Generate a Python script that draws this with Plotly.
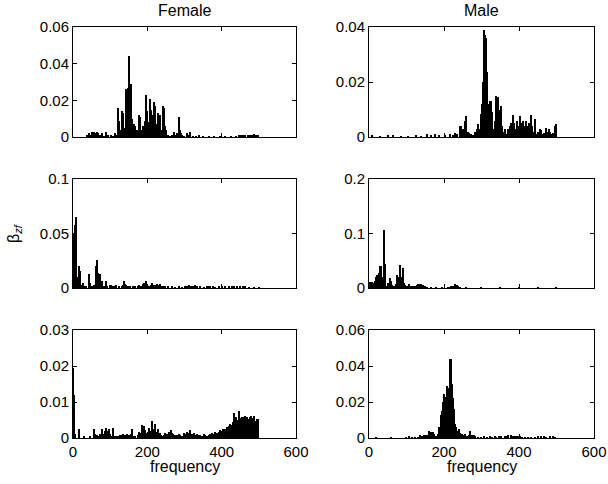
import plotly.graph_objects as go

# ---------------- data (frequency, beta_zf) ----------------
# Female, row 1
f1_freq = [38, 42, 47, 51, 56, 60, 64, 67, 72, 78, 83, 89, 95, 103, 108, 112, 116,
           120, 123, 125, 128, 132, 136, 140, 143, 146, 148, 152, 156, 158, 161, 164,
           168, 172, 176, 179, 181, 183, 186, 189, 193, 196, 199, 201, 204, 208, 210,
           213, 216, 218, 220, 222, 225, 227, 230, 232, 234, 238, 242, 244, 246, 248,
           250, 254, 257, 262, 266, 272, 277, 281, 284, 287, 290, 293, 300, 307, 312,
           316, 322, 330, 338, 350, 365, 380, 395, 410, 425, 440, 446, 452, 458, 464,
           470, 476, 482, 486, 490, 494, 498]
f1_val = [0.001, 0.002, 0.001, 0.0025, 0.0025, 0.002, 0.003, 0.002, 0.001, 0.002, 0.0005,
          0.003, 0.0008, 0.001, 0.0005, 0.002, 0.001,
          0.016, 0.009, 0.006, 0.004, 0.014, 0.013, 0.005, 0.026, 0.019, 0.027, 0.044,
          0.029, 0.010, 0.006, 0.007, 0.006, 0.004, 0.002, 0.012, 0.011, 0.004, 0.002,
          0.006, 0.009, 0.023, 0.014, 0.007, 0.008, 0.021, 0.015, 0.012, 0.005, 0.019,
          0.017, 0.011, 0.006, 0.007, 0.013, 0.010, 0.012, 0.004, 0.017, 0.016, 0.011,
          0.006, 0.004, 0.001, 0.001, 0.0005, 0.001, 0.003, 0.001, 0.002, 0.011, 0.004,
          0.002, 0.001, 0.0005, 0.002, 0.001, 0.003, 0.0005, 0.0003, 0.001, 0.0003,
          0.0003, 0.0003, 0.0003, 0.0003, 0.0003, 0.0005, 0.0008, 0.0006, 0.001, 0.0008,
          0.001, 0.0012, 0.001, 0.0015, 0.001, 0.0006, 0.0008]

# Male, row 1
m1_freq = [8, 30, 51, 64, 86, 105, 126, 140, 155, 166, 175, 188, 202, 215, 224, 230, 234,
           242, 246, 250, 253, 257, 260, 264, 268, 273, 278, 284, 287, 291, 294, 298,
           300, 302, 303, 305, 306, 307, 308, 309, 311, 312, 314, 316, 318, 319, 321,
           323, 325, 327, 329, 332, 335, 338, 340, 342, 344, 347, 350, 353, 356, 360,
           364, 367, 371, 376, 380, 385, 388, 392, 396, 399, 403, 406, 410, 413, 417,
           420, 424, 428, 431, 435, 438, 442, 445, 449, 452, 456, 460, 464, 468, 472,
           476, 479, 483, 486, 491, 495, 500]
m1_val = [0.0005, 0.0003, 0.0006, 0.0004, 0.0003, 0.0003, 0.0005, 0.0003, 0.0012, 0.0008,
          0.001, 0.0008, 0.0008, 0.001, 0.0008, 0.0015, 0.001,
          0.004, 0.004, 0.003, 0.002, 0.006, 0.0077, 0.002, 0.0015, 0.001, 0.0005, 0.002,
          0.003, 0.0046, 0.003, 0.005,
          0.0083, 0.012, 0.016, 0.020, 0.025, 0.030, 0.039, 0.037, 0.036, 0.028, 0.0236,
          0.018, 0.012, 0.009, 0.011, 0.013, 0.0132, 0.009, 0.007, 0.003, 0.006, 0.0148,
          0.008, 0.006, 0.0144, 0.006, 0.010, 0.0114, 0.004, 0.002, 0.003, 0.001, 0.003,
          0.004, 0.005, 0.0081, 0.005, 0.003, 0.006, 0.004, 0.0075, 0.005, 0.006, 0.003,
          0.004, 0.006, 0.004, 0.005, 0.008, 0.004, 0.002, 0.0065, 0.001, 0.0005, 0.002,
          0.0028, 0.0025, 0.001, 0.0015, 0.0034, 0.002, 0.0028, 0.002, 0.001, 0.0015,
          0.004, 0.0046]

# Female, row 2
f2_freq = [1, 2, 3, 4, 5, 6, 7, 8, 9, 11, 13, 17, 18, 20, 22, 27, 31, 36, 43, 45, 47, 51,
           57, 61, 63, 66, 68, 69, 72, 74, 76, 78, 83, 88, 92, 99, 102, 106, 111, 116,
           123, 132, 136, 138, 141, 143, 148, 154, 161, 168, 174, 179, 184, 188, 191,
           193, 196, 198, 200, 205, 210, 213, 217, 220, 223, 227, 230, 235, 239, 244,
           248, 257, 266, 275, 284, 293, 302, 307, 311, 318, 324, 329, 334, 343, 352,
           361, 365, 370, 376, 383, 392, 401, 410, 419, 428, 434, 441, 450, 457, 464,
           473, 486, 500]
f2_val = [0.050, 0.048, 0.050, 0.049, 0.047, 0.058, 0.060, 0.065, 0.030, 0.010, 0.004,
          0.020, 0.016, 0.015, 0.003, 0.005, 0.002, 0.001, 0.013, 0.005, 0.004, 0.001,
          0.003, 0.015, 0.020, 0.026, 0.014, 0.012, 0.005, 0.013, 0.006, 0.006, 0.002,
          0.006, 0.002, 0.003, 0.003, 0.002, 0.002, 0.003, 0.001, 0.001, 0.003, 0.006,
          0.004, 0.003, 0.002, 0.001, 0.001, 0.001, 0.002, 0.003, 0.002, 0.004, 0.005,
          0.005, 0.006, 0.004, 0.004, 0.002, 0.003, 0.005, 0.003, 0.002, 0.003, 0.004,
          0.003, 0.004, 0.002, 0.001, 0.001, 0.001, 0.001, 0.0005, 0.001, 0.0005, 0.002,
          0.002, 0.003, 0.001, 0.002, 0.003, 0.001, 0.001, 0.0005, 0.002, 0.002, 0.002,
          0.001, 0.0005, 0.001, 0.001, 0.001, 0.001, 0.001, 0.002, 0.001, 0.001, 0.002,
          0.001, 0.0005, 0.0003, 0.0003]

# Male, row 2
m2_freq = [2, 4, 8, 12, 15, 19, 22, 26, 29, 31, 33, 36, 39, 41, 44, 48, 52, 55, 57, 59,
           62, 66, 69, 73, 76, 78, 80, 83, 86, 90, 93, 97, 100, 104, 108, 113, 117, 122,
           127, 131, 135, 140, 143, 147, 150, 156, 165, 180, 195, 210, 217, 220, 224,
           227, 230, 232, 234, 237, 242, 260, 300, 350, 400, 450, 500]
m2_val = [0.010, 0.011, 0.011, 0.010, 0.012, 0.020, 0.023, 0.027, 0.040, 0.030, 0.040,
          0.020, 0.106, 0.083, 0.044, 0.004, 0.010, 0.018, 0.015, 0.013, 0.006, 0.004,
          0.002, 0.008, 0.024, 0.020, 0.018, 0.042, 0.020, 0.037, 0.010, 0.006, 0.003,
          0.004, 0.007, 0.004, 0.002, 0.003, 0.006, 0.007, 0.008, 0.007, 0.005, 0.003,
          0.002, 0.001, 0.0005, 0.0005, 0.0005, 0.0005, 0.001, 0.003, 0.002, 0.004, 0.007,
          0.006, 0.005, 0.003, 0.001, 0.0003, 0.0003, 0.0003, 0.0003, 0.0003, 0.0003]

# Female, row 3
f3_freq = [1, 2, 3, 4, 5, 17, 30, 45, 56, 60, 65, 69, 74, 78, 82, 85, 89, 92, 96, 100,
           103, 109, 114, 118, 123, 127, 132, 136, 141, 145, 150, 155, 159, 163, 168,
           174, 179, 183, 187, 190, 194, 197, 201, 204, 209, 213, 216, 220, 223, 227,
           230, 234, 238, 241, 245, 248, 252, 256, 259, 263, 266, 270, 274, 277, 281,
           284, 289, 293, 298, 302, 307, 311, 316, 320, 325, 329, 334, 338, 343, 347,
           352, 356, 361, 365, 370, 374, 379, 383, 387, 392, 396, 401, 405, 410, 414,
           419, 422, 426, 430, 432, 436, 439, 442, 446, 448, 451, 455, 458, 462, 466,
           469, 473, 476, 480, 483, 487, 491, 494, 498]
f3_val = [0.0195, 0.012, 0.0085, 0.003, 0.001, 0.0024, 0.0003, 0.0003, 0.0024, 0.001,
          0.0007, 0.0005, 0.0012, 0.0026, 0.0012, 0.002, 0.0027, 0.002, 0.0025, 0.0012,
          0.0005, 0.0028, 0.0006, 0.0004, 0.0006, 0.0009, 0.0007, 0.0012, 0.0008, 0.0011,
          0.0008, 0.001, 0.0025, 0.0006, 0.0004, 0.0008, 0.0018, 0.0015, 0.0035, 0.0032,
          0.0022, 0.0013, 0.0018, 0.0028, 0.002, 0.0046, 0.0025, 0.004, 0.0012, 0.0018,
          0.0026, 0.0015, 0.0008, 0.0006, 0.0008, 0.0014, 0.001, 0.0008, 0.0018, 0.0021,
          0.0015, 0.0012, 0.0007, 0.0005, 0.0009, 0.0012, 0.0007, 0.0006, 0.0013, 0.0011,
          0.0016, 0.0013, 0.0022, 0.0012, 0.0015, 0.0009, 0.0012, 0.0007, 0.0009, 0.0005,
          0.0012, 0.0009, 0.0005, 0.0008, 0.0012, 0.0014, 0.0011, 0.0017, 0.0014, 0.0016,
          0.0022, 0.002, 0.0025, 0.0024, 0.003, 0.0032, 0.0038, 0.0036, 0.0045, 0.0069,
          0.0055, 0.0058, 0.005, 0.0076, 0.006, 0.0055, 0.0058, 0.0058, 0.006, 0.0055,
          0.0058, 0.0052, 0.0058, 0.0061, 0.0055, 0.006, 0.0048, 0.0052, 0.0053]

# Male, row 3
m3_freq = [20, 60, 100, 108, 115, 122, 131, 137, 141, 147, 150, 156, 159, 163, 166, 170,
           173, 177, 180, 184, 188, 191, 193, 195, 197, 198, 200, 201, 203, 204, 206,
           208, 209, 211, 212, 214, 215, 217, 219, 220, 222, 224, 225, 227, 228, 230,
           232, 234, 237, 241, 244, 248, 252, 255, 259, 262, 266, 269, 273, 276, 280,
           284, 291, 300, 307, 314, 322, 328, 335, 340, 346, 353, 362, 367, 372, 378,
           381, 387, 392, 397, 403, 408, 415, 424, 433, 442, 451, 460, 467, 473, 482,
           491, 497]
m3_val = [0.0002, 0.0002, 0.0003, 0.0008, 0.0005, 0.0003, 0.0005, 0.0018, 0.0012, 0.0015,
          0.0016, 0.0018, 0.0037, 0.003, 0.0035, 0.0032, 0.0025, 0.0012, 0.001, 0.002,
          0.006, 0.010, 0.013, 0.015, 0.018, 0.020, 0.022, 0.0245, 0.023, 0.022, 0.018,
          0.025, 0.029, 0.028, 0.028, 0.020, 0.030, 0.044, 0.043, 0.044, 0.030, 0.022,
          0.020, 0.016, 0.015, 0.008, 0.006, 0.004, 0.003, 0.005, 0.003, 0.002, 0.0015,
          0.002, 0.0012, 0.0008, 0.0015, 0.0037, 0.0018, 0.0015, 0.0018, 0.001, 0.0004,
          0.0003, 0.0008, 0.0005, 0.0007, 0.0005, 0.0008, 0.0005, 0.0008, 0.0006, 0.0009,
          0.0012, 0.0015, 0.0015, 0.0012, 0.001, 0.0008, 0.0006, 0.0008, 0.0005, 0.0005,
          0.0004, 0.0004, 0.0003, 0.0006, 0.0008, 0.0007, 0.0005, 0.0006, 0.0006, 0.0005]

col_titles = ["Female", "Male"]
x_ticks = [0, 200, 400, 600]
y_ticks = {
    1: [0, 0.02, 0.04, 0.06],
    2: [0, 0.02, 0.04],
    3: [0, 0.05, 0.1],
    4: [0, 0.1, 0.2],
    5: [0, 0.01, 0.02, 0.03],
    6: [0, 0.02, 0.04, 0.06],
}
y_labels = {
    1: ["0", "0.02", "0.04", "0.06"],
    2: ["0", "0.02", "0.04"],
    3: ["0", "0.05", "0.1"],
    4: ["0", "0.1", "0.2"],
    5: ["0", "0.01", "0.02", "0.03"],
    6: ["0", "0.02", "0.04", "0.06"],
}
panels = [(f1_freq, f1_val), (m1_freq, m1_val), (f2_freq, f2_val),
          (m2_freq, m2_val), (f3_freq, f3_val), (m3_freq, m3_val)]

# ---------------- layout geometry (pixels of the 608x484 page) ----------------
W, H = 608, 484
col_px = [(73, 296), (369, 594)]
row_px = [(27, 137), (179, 288), (330, 438)]

FONT = "Liberation Sans, Arial, Helvetica, sans-serif"
FS = 16       # titles / axis labels
FS_TICK = 15  # tick labels

fig = go.Figure()
layout = dict(
    template="none",
    width=W, height=H,
    autosize=False,
    margin=dict(l=0, r=0, t=0, b=0, pad=0),
    paper_bgcolor="white", plot_bgcolor="white",
    showlegend=False,
    bargap=0,
    font=dict(family=FONT, size=FS, color="black"),
)

for i, (fx, fy) in enumerate(panels):
    n = i + 1
    r, c = divmod(i, 2)
    xa = "x" if n == 1 else f"x{n}"
    ya = "y" if n == 1 else f"y{n}"
    fig.add_trace(go.Bar(
        x=fx, y=fy, width=3,
        marker=dict(color="black", line=dict(width=0)),
        xaxis=xa, yaxis=ya,
    ))
    x0, x1 = col_px[c]
    y0, y1 = row_px[r]
    common = dict(
        automargin=False,
        showline=True, linecolor="black", linewidth=1, mirror="allticks",
        ticks="inside", ticklen=4, tickwidth=1, tickcolor="black",
        showgrid=False, zeroline=False,
        tickfont=dict(family=FONT, size=FS_TICK, color="black"),
    )
    layout["xaxis" if n == 1 else f"xaxis{n}"] = dict(
        common,
        domain=[x0 / W, x1 / W],
        range=[0, 600],
        tickvals=x_ticks,
        ticktext=[str(v) for v in x_ticks],
        showticklabels=(r == 2),
        anchor=ya,
    )
    layout["yaxis" if n == 1 else f"yaxis{n}"] = dict(
        common,
        domain=[1 - y1 / H, 1 - y0 / H],
        range=[0, y_ticks[n][-1]],
        tickvals=y_ticks[n],
        ticktext=y_labels[n],
        anchor=xa,
    )

fig.update_layout(**layout)

annotations = []
for c, t in enumerate(col_titles):
    x0, x1 = col_px[c]
    annotations.append(dict(
        text=t, x=(x0 + x1) / 2 / W, y=1 - 11 / H, xref="paper", yref="paper",
        showarrow=False, xanchor="center", yanchor="middle",
        font=dict(family=FONT, size=FS, color="black"),
    ))
    annotations.append(dict(
        text="frequency", x=(x0 + x1) / 2 / W, y=1 - 466 / H,
        xref="paper", yref="paper",
        showarrow=False, xanchor="center", yanchor="middle",
        font=dict(family=FONT, size=FS, color="black"),
    ))
annotations.append(dict(
    text="β<sub><i>zf</i></sub>", x=14 / W, y=1 - 233 / H,
    xref="paper", yref="paper",
    showarrow=False, xanchor="center", yanchor="middle", textangle=-90,
    font=dict(family=FONT, size=FS, color="black"),
))
fig.update_layout(annotations=annotations)

# remove the page's default 8px body margin so the figure fills the window
fig.write_html("out.html",
               config={"displayModeBar": False},
               post_script="document.body.style.margin='0px';document.body.style.overflow='hidden';")
